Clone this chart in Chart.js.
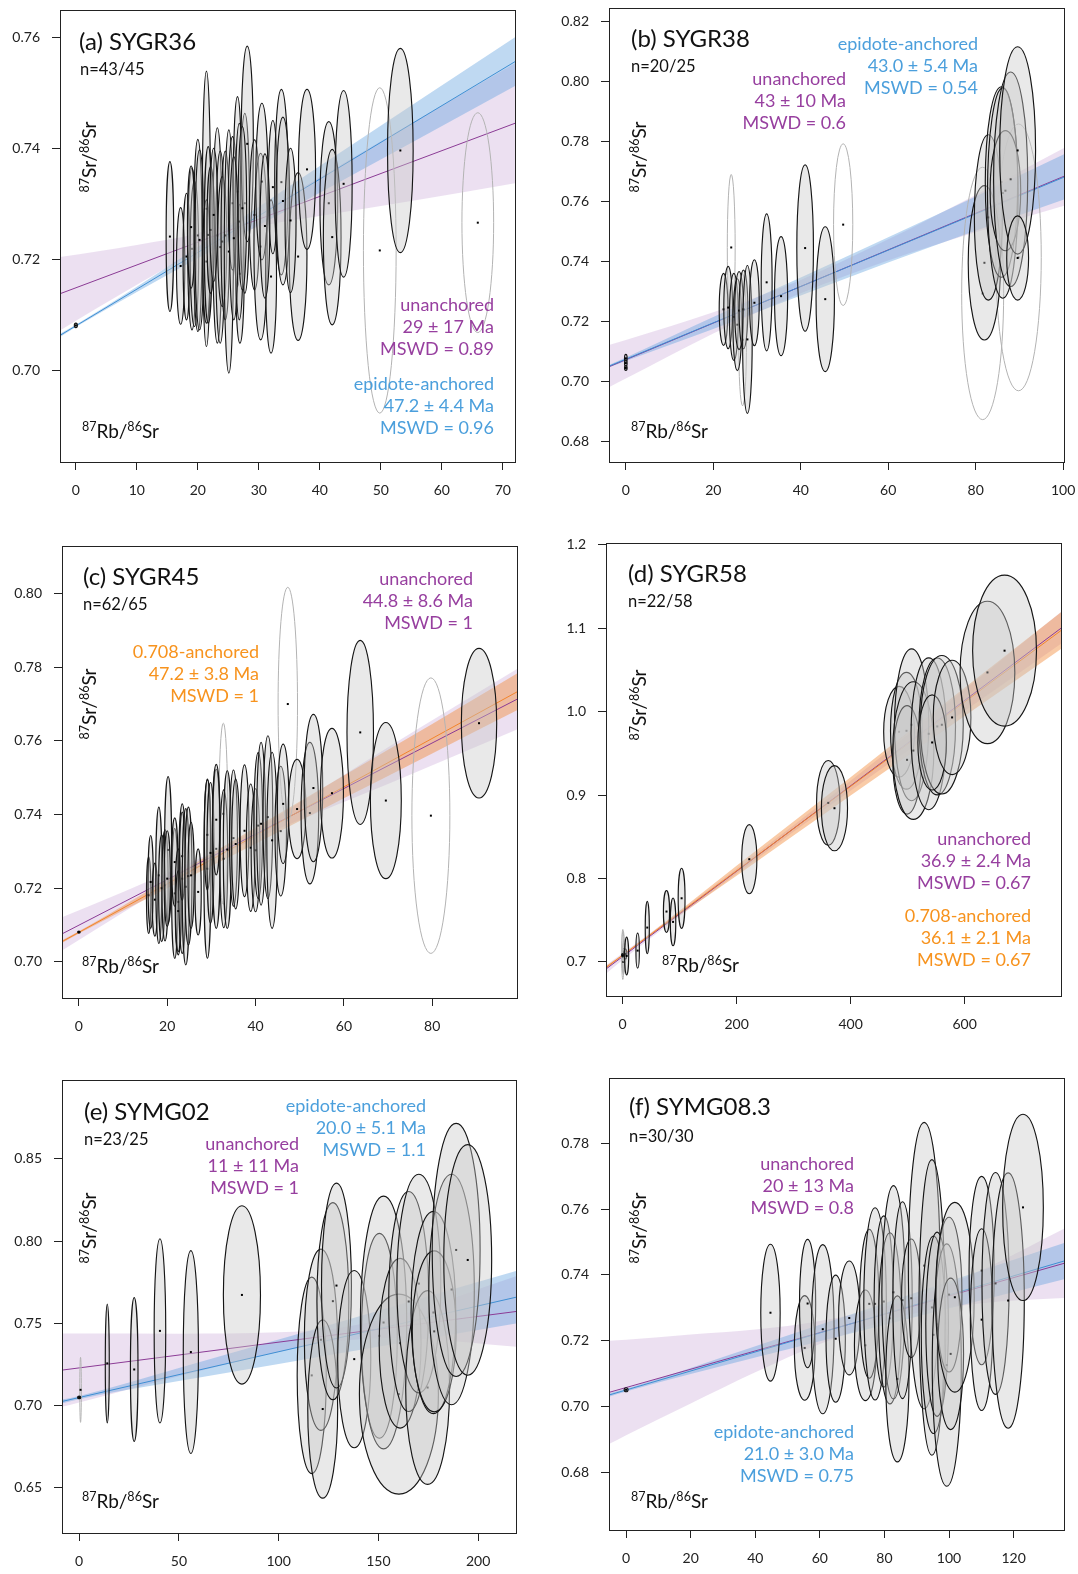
<!DOCTYPE html>
<html><head><meta charset="utf-8">
<script src="https://cdn.jsdelivr.net/npm/chart.js@4.4.0/dist/chart.umd.min.js"></script>
<style>
html,body{margin:0;padding:0;background:#fff;}
#wrap{position:relative;width:1078px;height:1574px;background:#fff;}
#wrap canvas{position:absolute;left:0;top:0;}
</style></head><body><div id="wrap">
<canvas id="ca" width="1078" height="1574"></canvas>
<canvas id="cb" width="1078" height="1574"></canvas>
<canvas id="cc" width="1078" height="1574"></canvas>
<canvas id="cd" width="1078" height="1574"></canvas>
<canvas id="ce" width="1078" height="1574"></canvas>
<canvas id="cf" width="1078" height="1574"></canvas>
</div>
<script>
// ================= DATA =================
// ---- (a) SYGR36 ----
const aXTicks=[0,10,20,30,40,50,60,70];
const aXTickLabels=['0','10','20','30','40','50','60','70'];
const aYTicks=[0.70,0.72,0.74,0.76];
const aYTickLabels=['0.70','0.72','0.74','0.76'];
const aEllX =[0,15.42,17.18,18.14,19.04,19.44,20.0,20.28,21.41,21.41,21.7,23.2,23.67,24.0,24.5,25.08,25.7,26.5,26.9,26.8,27.7,28.1,29.3,30.3,30.5,32.0,32.3,33.7,33.95,36.44,37.9,41.47,42.03,43.9,53.2,22.1,25.9,27.3,31.0,18.9,22.6,35.2,49.83,65.9];
const aEllY =[0.7081,0.7241,0.7188,0.7205,0.7219,0.7210,0.7243,0.7235,0.7291,0.7196,0.7244,0.7243,0.7222,0.7232,0.7243,0.7214,0.7301,0.7322,0.7174,0.7268,0.7301,0.7408,0.7280,0.7223,0.7340,0.7169,0.7330,0.7339,0.7305,0.7205,0.7362,0.7301,0.7240,0.7336,0.7396,0.7253,0.7238,0.7292,0.7260,0.7258,0.7280,0.7270,0.7216,0.7266];
const aEllSX=[0.25,0.62,0.68,0.56,0.70,0.70,0.70,0.75,0.68,0.60,0.65,0.75,0.75,0.75,0.70,0.75,0.70,0.70,0.70,0.70,0.75,1.0,0.85,1.1,1.0,0.9,0.75,1.1,1.1,1.45,1.4,1.45,1.45,1.4,2.1,0.6,0.7,0.7,0.8,0.6,0.65,0.9,2.68,2.6];
const aEllSY=[0.0004,0.0135,0.0105,0.0114,0.0146,0.0131,0.0173,0.0162,0.0248,0.0111,0.0159,0.0194,0.0173,0.0117,0.0152,0.0219,0.0120,0.0171,0.0125,0.0177,0.0162,0.0176,0.0135,0.0168,0.0141,0.0138,0.0120,0.0167,0.0151,0.0151,0.0144,0.0147,0.0158,0.0168,0.0184,0.0114,0.0147,0.0147,0.0130,0.0110,0.0120,0.0130,0.0293,0.0198];
const aEllRej=[0,0,0,0,0,0,0,0,0,0,0,0,0,0,0,0,0,0,0,0,0,0,0,0,0,0,0,0,0,0,0,0,0,0,0,0,0,0,0,0,0,0,1,1];
const aUnLineX=[-2.6,72.0], aUnLineY=[0.7138,0.7445];
const aEpLineX=[-2.6,72.0], aEpLineY=[0.7063,0.7556];
const aUnBandX=[-2.6,10,20,30,40,55,72.0];
const aUnBandHi=[0.7204,0.7226,0.7247,0.7286,0.7348,0.7445,0.7553];
const aUnBandLo=[0.7072,0.7154,0.7215,0.7258,0.7278,0.7305,0.7337];
const aEpBandX=[-2.6,0,20,40,72.0];
const aEpBandHi=[0.7066,0.7082,0.7222,0.7368,0.7600];
const aEpBandLo=[0.7060,0.7078,0.7202,0.7320,0.7512];

// ---- (b) SYGR38 ----
const bXTicks=[0,20,40,60,80,100];
const bXTickLabels=['0','20','40','60','80','100'];
const bYTicks=[0.68,0.70,0.72,0.74,0.76,0.78,0.80,0.82];
const bYTickLabels=['0.68','0.70','0.72','0.74','0.76','0.78','0.80','0.82'];
const bEllX =[24.1,26.7,49.7,81.6,89.8,0,0,0,22.35,23.4,24.7,25.5,25.9,26.9,27.8,29.4,32.2,35.5,41.0,45.6,82.0,82.9,85.9,86.2,86.8,88.0,89.6,89.6];
const bEllY =[0.7447,0.7140,0.7523,0.7294,0.7414,0.7078,0.7062,0.7046,0.7241,0.7247,0.7216,0.7190,0.7237,0.7241,0.7141,0.7263,0.7331,0.7285,0.7445,0.7275,0.7396,0.7547,0.7665,0.7628,0.7636,0.7674,0.7770,0.7412];
const bEllSX=[0.9,0.9,2.2,4.8,5.2,0.3,0.3,0.3,1.0,1.0,1.0,1.0,1.0,1.0,1.1,1.1,1.25,1.5,1.9,2.1,3.7,3.2,3.7,3.5,3.5,3.9,4.1,2.5];
const bEllSY=[0.0243,0.0220,0.0269,0.0420,0.0444,0.0013,0.0010,0.0008,0.0120,0.0137,0.0145,0.0153,0.0130,0.0131,0.0246,0.0143,0.0228,0.0198,0.0277,0.0241,0.0257,0.0275,0.0317,0.0350,0.0200,0.0357,0.0345,0.0140];
const bEllRej=[1,1,1,1,1,0,0,0,0,0,0,0,0,0,0,0,0,0,0,0,0,0,0,0,0,0,0,0];
const bUnLineX=[-3.85,100.2], bUnLineY=[0.7050,0.7684];
const bEpLineX=[-3.85,100.2], bEpLineY=[0.7052,0.7681];
const bUnBandX=[-3.85,0,20,40,60,80,100.2];
const bUnBandHi=[0.7122,0.7139,0.7231,0.7339,0.7474,0.7622,0.7778];
const bUnBandLo=[0.6982,0.7011,0.7161,0.7295,0.7404,0.7498,0.7586];
const bEpBandX=[-3.85,0,20,40,60,80,100.2];
const bEpBandHi=[0.7056,0.7081,0.7216,0.7347,0.7481,0.7617,0.7757];
const bEpBandLo=[0.7048,0.7069,0.7176,0.7287,0.7397,0.7503,0.7607];

// ---- (c) SYGR45 ----
const cXTicks=[0,20,40,60,80];
const cXTickLabels=['0','20','40','60','80'];
const cYTicks=[0.70,0.72,0.74,0.76,0.78,0.80];
const cYTickLabels=['0.70','0.72','0.74','0.76','0.78','0.80'];
const cEllX =[32.7,47.3,79.7,0,15.8,16.25,17.2,18.1,18.75,19.5,20.2,20.0,21.7,21.7,22.5,22.5,23.4,23.4,24.2,24.8,25.4,27.0,29.1,29.1,29.8,31.1,31.1,32.8,33.6,35.0,35.5,37.5,38.9,40.0,40.6,41.25,42.8,43.75,45.7,46.25,49.4,52.3,53.1,57.3,63.7,69.5,90.6];
const cEllY =[0.7402,0.7700,0.7397,0.7081,0.7181,0.7217,0.7169,0.7235,0.7200,0.7208,0.7304,0.7226,0.7186,0.7271,0.7163,0.7138,0.7226,0.7287,0.7204,0.7233,0.7235,0.7190,0.7253,0.7345,0.7296,0.7307,0.7386,0.7280,0.7305,0.7336,0.7320,0.7356,0.7310,0.7303,0.7370,0.7375,0.7393,0.7330,0.7355,0.7429,0.7415,0.7404,0.7472,0.7458,0.7623,0.7438,0.7648];
const cEllSX=[1.0,2.2,4.3,0.3,0.5,0.6,0.6,0.7,0.7,0.7,0.8,0.7,0.7,0.7,0.7,0.6,0.8,0.6,0.8,0.8,0.7,0.7,0.8,0.7,0.8,0.9,0.8,0.9,0.9,0.9,0.9,1.0,1.0,1.0,1.0,1.0,1.1,1.2,1.3,1.3,2.0,2.0,2.1,2.6,3.0,3.5,4.0];
const cEllSY=[0.0246,0.0317,0.0374,0.0003,0.0104,0.0126,0.0099,0.0185,0.0145,0.0151,0.0199,0.0130,0.0176,0.0120,0.0144,0.0110,0.0203,0.0120,0.0212,0.0187,0.0144,0.0117,0.0243,0.0150,0.0191,0.0216,0.0150,0.0187,0.0214,0.0185,0.0176,0.0179,0.0173,0.0167,0.0198,0.0221,0.0221,0.0239,0.0176,0.0162,0.0135,0.0192,0.0200,0.0176,0.0250,0.0212,0.0203];
const cEllRej=[1,1,1,0,0,0,0,0,0,0,0,0,0,0,0,0,0,0,0,0,0,0,0,0,0,0,0,0,0,0,0,0,0,0,0,0,0,0,0,0,0,0,0,0,0,0,0];
const cUnLineX=[-3.83,99.2], cUnLineY=[0.7076,0.7713];
const cAnLineX=[-3.83,99.2], cAnLineY=[0.7055,0.7733];
const cUnBandX=[-3.83,10,20,35,50,70,99.2];
const cUnBandHi=[0.7121,0.7190,0.7241,0.7326,0.7433,0.7583,0.7795];
const cUnBandLo=[0.7031,0.7134,0.7207,0.7306,0.7385,0.7483,0.7631];
const cAnBandX=[-3.83,0,20,40,60,80,99.2];
const cAnBandHi=[0.7059,0.7083,0.7224,0.7365,0.7506,0.7646,0.7783];
const cAnBandLo=[0.7051,0.7077,0.7200,0.7321,0.7444,0.7566,0.7683];

// ---- (d) SYGR58 ----
const dXTicks=[0,200,400,600];
const dXTickLabels=['0','200','400','600'];
const dYTicks=[0.7,0.8,0.9,1.0,1.1,1.2];
const dYTickLabels=['0.7','0.8','0.9','1.0','1.1','1.2'];
const dEllX =[1.0,2.0,0.5,3.0,1.5,4.0,0,5.0,7.2,26.5,43.4,77.1,88.6,103.6,222.3,360.8,371.7,485,498,507,499,510,537,552,560,543,578,640,670];
const dEllY =[0.712,0.705,0.709,0.715,0.700,0.708,0.708,0.7095,0.7072,0.7136,0.7412,0.7604,0.7480,0.7763,0.8231,0.8906,0.8842,0.9758,0.9770,0.9842,0.9422,0.9533,0.9734,0.9822,0.9842,0.9630,0.9930,1.0469,1.0730];
const dEllSX=[2.5,2.5,2.0,2.5,2.0,2.5,1.5,2.5,3.6,3.0,3.6,5.4,4.8,6.0,13.3,20.5,22.9,27,28,30,25,36,31,32,37.6,25,33,48,56];
const dEllSY=[0.025,0.018,0.030,0.012,0.015,0.010,0.002,0.006,0.0226,0.0210,0.0314,0.0250,0.0286,0.0360,0.0414,0.0508,0.0510,0.0544,0.0700,0.0910,0.0650,0.0825,0.0910,0.0820,0.0830,0.0570,0.0685,0.0853,0.0905];
const dEllRej=[1,1,1,1,1,1,0,0,0,0,0,0,0,0,0,0,0,0,0,0,0,0,0,0,0,0,0,0,0];
const dUnLineX=[-29,769], dUnLineY=[0.6915,1.0999];
const dAnLineX=[-29,769], dAnLineY=[0.6933,1.0971];
const dUnBandX=[-29,0,200,400,600,769];
const dUnBandHi=[0.6960,0.7104,0.8118,0.9172,1.0266,1.1192];
const dUnBandLo=[0.6860,0.7024,0.8058,0.9052,1.0006,1.0812];
const dAnBandX=[-29,0,200,400,600,769];
const dAnBandHi=[0.6953,0.7090,0.8152,0.9214,1.0286,1.1191];
const dAnBandLo=[0.6913,0.7070,0.8032,0.8994,0.9946,1.0751];

// ---- (e) SYMG02 ----
const eXTicks=[0,50,100,150,200];
const eXTickLabels=['0','50','100','150','200'];
const eYTicks=[0.65,0.70,0.75,0.80,0.85];
const eYTickLabels=['0.65','0.70','0.75','0.80','0.85'];
const eEllX =[0.7,0,14.1,27.6,40.5,56.0,81.6,116.6,121.2,122.1,127.2,129.0,137.9,150.5,152.6,160.3,160.9,165.2,170.3,174.7,177.6,178.0,186.7,189.0,194.8];
const eEllY =[0.7094,0.7048,0.7255,0.7218,0.7453,0.7324,0.7672,0.7182,0.7399,0.6977,0.7634,0.7729,0.7281,0.7423,0.7504,0.7068,0.7378,0.7632,0.7741,0.7108,0.7565,0.7450,0.7705,0.7946,0.7885];
const eEllSX=[0.4,0.8,1.0,1.9,2.9,3.8,9.3,7.3,8.3,7.5,8.0,7.5,8.3,9.0,11.6,19.8,10.5,10.0,11.0,11.0,11.2,11.0,11.4,12.0,12.0];
const eEllSY=[0.0198,0.0008,0.0362,0.0438,0.0561,0.0618,0.0543,0.0598,0.0552,0.0543,0.0600,0.0624,0.0540,0.0624,0.0770,0.0609,0.0517,0.0670,0.0666,0.0590,0.0616,0.0490,0.0702,0.0771,0.0702];
const eEllRej=[1,0,0,0,0,0,0,0,0,0,0,0,0,0,0,0,0,0,0,0,0,0,0,0,0];
const eUnLineX=[-8.6,219], eUnLineY=[0.7214,0.7571];
const eEpLineX=[-8.6,219], eEpLineY=[0.7023,0.7658];
const eUnBandX=[-8.6,0,50,100,130,160,219];
const eUnBandHi=[0.7437,0.7437,0.7436,0.7444,0.7471,0.7548,0.7786];
const eUnBandLo=[0.6991,0.7017,0.7176,0.7324,0.7391,0.7408,0.7356];
const eEpBandX=[-8.6,0,50,100,150,219];
const eEpBandHi=[0.7035,0.7057,0.7227,0.7401,0.7576,0.7818];
const eEpBandLo=[0.7011,0.7037,0.7147,0.7251,0.7356,0.7498];

// ---- (f) SYMG08.3 ----
const fXTicks=[0,20,40,60,80,100,120];
const fXTickLabels=['0','20','40','60','80','100','120'];
const fYTicks=[0.68,0.70,0.72,0.74,0.76,0.78];
const fYTickLabels=['0.68','0.70','0.72','0.74','0.76','0.78'];
const fEllX =[0,44.7,55.3,56.2,60.9,64.9,69.1,74.1,75.3,77.1,79.8,81.7,82.8,84.0,85.6,88.3,92.3,94.7,95.2,96.3,99.3,100.0,100.5,101.8,110.1,110.1,114.4,118.3,122.9];
const fEllY =[0.7051,0.7285,0.7178,0.7313,0.7235,0.7206,0.7269,0.7186,0.7312,0.7312,0.7319,0.7268,0.7347,0.7084,0.7323,0.7329,0.7428,0.7301,0.7218,0.7250,0.7126,0.7340,0.7160,0.7332,0.7413,0.7264,0.7374,0.7322,0.7605];
const fEllSX=[0.6,3.0,3.2,2.5,3.5,3.0,3.3,3.4,3.0,3.5,3.0,3.5,3.6,3.6,3.0,3.0,4.9,4.0,3.8,3.5,4.5,4.0,4.0,6.0,3.9,3.5,4.2,5.0,6.3];
const fEllSY=[0.0006,0.0208,0.0159,0.0195,0.0257,0.0193,0.0173,0.0168,0.0226,0.0292,0.0260,0.0260,0.0324,0.0252,0.0299,0.0180,0.0435,0.0449,0.0300,0.0280,0.0368,0.0235,0.0230,0.0288,0.0286,0.0276,0.0337,0.0388,0.0283];
const fEllRej=[0,0,0,0,0,0,0,0,0,0,0,0,0,0,0,0,0,0,0,0,0,0,0,0,0,0,0,0,0];
const fUnLineX=[-5.3,135.6], fUnLineY=[0.7043,0.7435];
const fEpLineX=[-5.3,135.6], fEpLineY=[0.7035,0.7442];
const fUnBandX=[-5.3,0,20,40,60,85,110,135.6];
const fUnBandHi=[0.7200,0.7203,0.7219,0.7234,0.7260,0.7317,0.7414,0.7540];
const fUnBandLo=[0.6886,0.6913,0.7009,0.7104,0.7190,0.7273,0.7314,0.7330];
const fEpBandX=[-5.3,0,40,80,110,135.6];
const fEpBandHi=[0.7040,0.7054,0.7183,0.7314,0.7413,0.7497];
const fEpBandLo=[0.7030,0.7046,0.7149,0.7248,0.7323,0.7387];

// ================= STYLE =================
const FONT="Lato, 'Open Sans', sans-serif";
Chart.defaults.font.family=FONT;
Chart.defaults.color='#222';
const C_PUR='#973f9f', C_BLU='#4b9fdc', C_ORA='#f7931e';
const L_PUR='#8b3b95', L_BLU='#3f8fd3', L_ORA='#f2842a';
const B_PUR='rgba(195,160,210,0.32)', B_BLU='rgba(95,160,222,0.40)', B_ORA='rgba(242,140,60,0.45)';
const ELL_FILL='rgba(200,200,200,0.40)', ELL_LINE='#151515', REJ_LINE='#b3b3b3';
const YW=60, XH=40;

function ell(x,y,sx,sy,rej){return {x,y,sx,sy,rej};}
function band(x,hi,lo,color){return {x,hi,lo,color};}
function line(x,y,color){return {x,y,color};}
function ann(lines,color,x,y0){return lines.map((t,i)=>({t,color,x,y:y0+i*22,size:18,align:'right'}));}

const panels=[
 {id:'ca',box:[60,10,515,462],xr:[-2.6,72.0],yr:[0.6835,0.7649],
  xt:aXTicks,xtl:aXTickLabels,yt:aYTicks,ytl:aYTickLabels,
  ell:ell(aEllX,aEllY,aEllSX,aEllSY,aEllRej),
  bands:[band(aUnBandX,aUnBandHi,aUnBandLo,B_PUR),band(aEpBandX,aEpBandHi,aEpBandLo,B_BLU)],
  lines:[line(aUnLineX,aUnLineY,L_PUR),line(aEpLineX,aEpLineY,L_BLU)],
  title:['(a) SYGR36',79,50],n:['n=43/45',80,75],yl:[96,157],xl:[82,438],
  texts:[...ann(['unanchored','29 \u00b1 17 Ma','MSWD = 0.89'],C_PUR,494,311),...ann(['epidote-anchored','47.2 \u00b1 4.4 Ma','MSWD = 0.96'],C_BLU,494,390)]},
 {id:'cb',box:[609,8,1064,462],xr:[-3.85,100.2],yr:[0.6733,0.8244],
  xt:bXTicks,xtl:bXTickLabels,yt:bYTicks,ytl:bYTickLabels,
  ell:ell(bEllX,bEllY,bEllSX,bEllSY,bEllRej),
  bands:[band(bUnBandX,bUnBandHi,bUnBandLo,B_PUR),band(bEpBandX,bEpBandHi,bEpBandLo,B_BLU)],
  lines:[line(bUnLineX,bUnLineY,L_PUR),line(bEpLineX,bEpLineY,L_BLU)],
  title:['(b) SYGR38',631,47],n:['n=20/25',631,72],yl:[646,157],xl:[631,438],
  texts:[...ann(['epidote-anchored','43.0 \u00b1 5.4 Ma','MSWD = 0.54'],C_BLU,978,50),...ann(['unanchored','43 \u00b1 10 Ma','MSWD = 0.6'],C_PUR,846,85)]},
 {id:'cc',box:[62,546,517,998],xr:[-3.83,99.2],yr:[0.6902,0.8129],
  xt:cXTicks,xtl:cXTickLabels,yt:cYTicks,ytl:cYTickLabels,
  ell:ell(cEllX,cEllY,cEllSX,cEllSY,cEllRej),
  bands:[band(cUnBandX,cUnBandHi,cUnBandLo,B_PUR),band(cAnBandX,cAnBandHi,cAnBandLo,B_ORA)],
  lines:[line(cUnLineX,cUnLineY,L_PUR),line(cAnLineX,cAnLineY,L_ORA)],
  title:['(c) SYGR45',83,585],n:['n=62/65',83,610],yl:[96,704],xl:[82,973],
  texts:[...ann(['unanchored','44.8 \u00b1 8.6 Ma','MSWD = 1'],C_PUR,473,585),...ann(['0.708-anchored','47.2 \u00b1 3.8 Ma','MSWD = 1'],C_ORA,259,658)]},
 {id:'cd',box:[606,543,1061,996],xr:[-29,769],yr:[0.6592,1.202],
  xt:dXTicks,xtl:dXTickLabels,yt:dYTicks,ytl:dYTickLabels,
  ell:ell(dEllX,dEllY,dEllSX,dEllSY,dEllRej),
  bands:[band(dUnBandX,dUnBandHi,dUnBandLo,B_PUR),band(dAnBandX,dAnBandHi,dAnBandLo,B_ORA)],
  lines:[line(dUnLineX,dUnLineY,L_PUR),line(dAnLineX,dAnLineY,L_ORA)],
  title:['(d) SYGR58',628,582],n:['n=22/58',628,607],yl:[646,705],xl:[662,972],
  texts:[...ann(['unanchored','36.9 \u00b1 2.4 Ma','MSWD = 0.67'],C_PUR,1031,845),...ann(['0.708-anchored','36.1 \u00b1 2.1 Ma','MSWD = 0.67'],C_ORA,1031,922)]},
 {id:'ce',box:[62,1080,516,1533],xr:[-8.6,219],yr:[0.6222,0.8981],
  xt:eXTicks,xtl:eXTickLabels,yt:eYTicks,ytl:eYTickLabels,
  ell:ell(eEllX,eEllY,eEllSX,eEllSY,eEllRej),
  bands:[band(eUnBandX,eUnBandHi,eUnBandLo,B_PUR),band(eEpBandX,eEpBandHi,eEpBandLo,B_BLU)],
  lines:[line(eUnLineX,eUnLineY,L_PUR),line(eEpLineX,eEpLineY,L_BLU)],
  title:['(e) SYMG02',84,1120],n:['n=23/25',84,1145],yl:[96,1228],xl:[82,1508],
  texts:[...ann(['epidote-anchored','20.0 \u00b1 5.1 Ma','MSWD = 1.1'],C_BLU,426,1112),...ann(['unanchored','11 \u00b1 11 Ma','MSWD = 1'],C_PUR,299,1150)]},
 {id:'cf',box:[609,1078,1064,1530],xr:[-5.3,135.6],yr:[0.6625,0.7998],
  xt:fXTicks,xtl:fXTickLabels,yt:fYTicks,ytl:fYTickLabels,
  ell:ell(fEllX,fEllY,fEllSX,fEllSY,fEllRej),
  bands:[band(fUnBandX,fUnBandHi,fUnBandLo,B_PUR),band(fEpBandX,fEpBandHi,fEpBandLo,B_BLU)],
  lines:[line(fUnLineX,fUnLineY,L_PUR),line(fEpLineX,fEpLineY,L_BLU)],
  title:['(f) SYMG08.3',629,1115],n:['n=30/30',629,1142],yl:[646,1228],xl:[631,1508],
  texts:[...ann(['unanchored','20 \u00b1 13 Ma','MSWD = 0.8'],C_PUR,854,1170),...ann(['epidote-anchored','21.0 \u00b1 3.0 Ma','MSWD = 0.75'],C_BLU,854,1438)]}
];

function supParts(a,b){return [['87',1],[a,0],['86',1],[b,0]];}
function measureSup(ctx,parts,size){
  const ss=size*0.66;let w=0;
  parts.forEach(([t,s])=>{ctx.font=(s?ss:size)+'px '+FONT;w+=ctx.measureText(t).width;});
  return w;
}
function renderSup(ctx,parts,size,x,y){
  const ss=size*0.66;let cx=x;
  parts.forEach(([t,s])=>{ctx.font=(s?ss:size)+'px '+FONT;ctx.fillText(t,cx,s?y-size*0.38:y);cx+=ctx.measureText(t).width;});
}

function makePlugin(p){
  return {
    id:'iso_'+p.id,
    afterDatasetsDraw(chart){
      const {ctx,chartArea:a,scales:{x,y}}=chart;
      const E=p.ell;
      ctx.save();
      ctx.beginPath();ctx.rect(a.left,a.top,a.right-a.left,a.bottom-a.top);ctx.clip();
      const order=[];
      E.x.forEach((_,i)=>{if(E.rej[i])order.push(i);});
      E.x.forEach((_,i)=>{if(!E.rej[i])order.push(i);});
      order.forEach(i=>{
        const px=x.getPixelForValue(E.x[i]), py=y.getPixelForValue(E.y[i]);
        const rx=Math.max(0.8,Math.abs(x.getPixelForValue(E.x[i]+E.sx[i])-px));
        const ry=Math.max(0.8,Math.abs(y.getPixelForValue(E.y[i]+E.sy[i])-py));
        ctx.beginPath();ctx.ellipse(px,py,rx,ry,0,0,Math.PI*2);
        if(E.rej[i]){ctx.strokeStyle=REJ_LINE;ctx.lineWidth=1;ctx.stroke();}
        else{ctx.fillStyle=ELL_FILL;ctx.fill();ctx.strokeStyle=ELL_LINE;ctx.lineWidth=1.15;ctx.stroke();}
        ctx.fillStyle='#000';ctx.fillRect(px-1,py-1,2,2);
      });
      ctx.restore();
    },
    afterDraw(chart){
      const {ctx,chartArea:a}=chart;
      ctx.save();
      ctx.strokeStyle='#222';ctx.lineWidth=1;
      ctx.strokeRect(Math.round(a.left)+0.5,Math.round(a.top)+0.5,Math.round(a.right-a.left),Math.round(a.bottom-a.top));
      ctx.fillStyle='#111';ctx.textBaseline='alphabetic';ctx.textAlign='left';
      ctx.font='24px '+FONT;ctx.fillText(p.title[0],p.title[1],p.title[2]);
      ctx.font='16.5px '+FONT;ctx.fillText(p.n[0],p.n[1],p.n[2]);
      renderSup(ctx,supParts('Rb/','Sr'),19,p.xl[0],p.xl[1]);
      const yp=supParts('Sr/','Sr');
      const w=measureSup(ctx,yp,19);
      ctx.save();ctx.translate(p.yl[0],p.yl[1]);ctx.rotate(-Math.PI/2);
      renderSup(ctx,yp,19,-w/2,0);ctx.restore();
      p.texts.forEach(t=>{ctx.fillStyle=t.color;ctx.textAlign=t.align;ctx.font=t.size+'px '+FONT;ctx.fillText(t.t,t.x,t.y);});
      ctx.restore();
    }
  };
}

function zeroPad(s){s.paddingTop=0;s.paddingBottom=0;s.paddingLeft=0;s.paddingRight=0;}

function makeChart(p){
  const [L,T,R,B]=p.box;
  const ds=[];
  p.bands.forEach((b,i)=>{
    ds.push({data:b.x.map((v,k)=>({x:v,y:b.hi[k]})),borderWidth:0,pointRadius:0,backgroundColor:b.color,fill:'+1',cubicInterpolationMode:'monotone',order:20-2*i});
    ds.push({data:b.x.map((v,k)=>({x:v,y:b.lo[k]})),borderWidth:0,pointRadius:0,backgroundColor:'rgba(0,0,0,0)',fill:false,cubicInterpolationMode:'monotone',order:19-2*i});
  });
  p.lines.forEach((l,i)=>{
    ds.push({data:l.x.map((v,k)=>({x:v,y:l.y[k]})),borderColor:l.color,borderWidth:1,pointRadius:0,fill:false,order:5-i});
  });
  const axisCommon={
    grid:{drawOnChartArea:false,drawTicks:true,tickLength:8,color:'#222',lineWidth:1},
    border:{display:true,color:'#222',width:1}
  };
  return new Chart(document.getElementById(p.id),{
    type:'line',
    data:{datasets:ds},
    options:{
      responsive:false,animation:false,devicePixelRatio:1,events:[],
      layout:{padding:{left:L-YW,top:T,right:1078-R,bottom:1574-B-XH}},
      plugins:{legend:{display:false},tooltip:{enabled:false}},
      scales:{
        x:{type:'linear',min:p.xr[0],max:p.xr[1],...axisCommon,
           afterBuildTicks:s=>{s.ticks=p.xt.map(v=>({value:v}));},
           afterFit:s=>{s.height=XH;zeroPad(s);},
           ticks:{padding:12,autoSkip:false,maxRotation:0,font:{size:14,family:FONT},color:'#222',
                  callback:(v)=>p.xtl[p.xt.indexOf(v)]}},
        y:{type:'linear',min:p.yr[0],max:p.yr[1],...axisCommon,
           afterBuildTicks:s=>{s.ticks=p.yt.map(v=>({value:v}));},
           afterFit:s=>{s.width=YW;zeroPad(s);},
           ticks:{padding:12,autoSkip:false,font:{size:14,family:FONT},color:'#222',
                  callback:(v)=>{const i=p.yt.findIndex(t=>Math.abs(t-v)<1e-9);return i>=0?p.ytl[i]:'';}}}
      }
    },
    plugins:[makePlugin(p)]
  });
}
panels.forEach(makeChart);
</script></body></html>
